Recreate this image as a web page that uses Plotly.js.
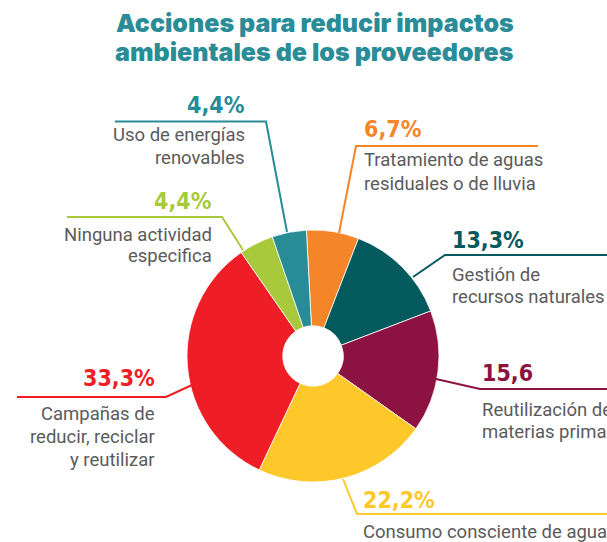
<!DOCTYPE html>
<html><head><meta charset="utf-8">
<script src="https://cdn.plot.ly/plotly-3.0.1.min.js"></script>
<style>html,body{margin:0;padding:0;background:#fff}#chart{width:607px;height:542px}</style>
</head><body><div id="chart"></div>
<script>
// ---- data ----
const categories = [
  "Tratamiento de aguas residuales o de lluvia",
  "Gestión de recursos naturales",
  "Reutilización de materias primas",
  "Consumo consciente de agua",
  "Campañas de reducir, reciclar y reutilizar",
  "Ninguna actividad especifica",
  "Uso de energías renovables"
];
const values = [6.7, 13.3, 15.6, 22.2, 33.3, 4.4, 4.4];
const valueLabels = ["6,7%", "13,3%", "15,6", "22,2%", "33,3%", "4,4%", "4,4%"];
const labelLines = [
  ["Tratamiento de aguas", "residuales o de lluvia"],
  ["Gestión de", "recursos naturales"],
  ["Reutilización de", "materias primas"],
  ["Consumo consciente de agua"],
  ["Campañas de", "reducir, reciclar", "y reutilizar"],
  ["Ninguna actividad", "especifica"],
  ["Uso de energías", "renovables"]
];
const titleLines = ["Acciones para reducir impactos", "ambientales de los proveedores"];

// ---- style / placement (pixels) ----
const colors = ["#F58529", "#045A5C", "#8C1241", "#FEC82B", "#EE1D26", "#A8C93B", "#288C97"];
const W = 607, H = 542;
const place = [
  {side: "left",  x: 363, pctY: 128.5, ys: [160.5, 184],     path: [[538,146],[356,146],[339,233]]},
  {side: "left",  x: 451, pctY: 240,   ys: [274.5, 296.5],   path: [[607,255],[445,255],[413,277]]},
  {side: "left",  x: 481, pctY: 373,   ys: [410, 432],       path: [[436,379],[480,389],[607,389]]},
  {side: "left",  x: 362, pctY: 500,   ys: [532],            path: [[343,479],[357,514],[607,514]]},
  {side: "right", x: 156, pctY: 378,   ys: [414, 437, 460],  path: [[17,397],[166,397],[192,385]]},
  {side: "right", x: 213, pctY: 201,   ys: [234.5, 255.5],   path: [[67,217],[222,217],[243,250]]},
  {side: "right", x: 246, pctY: 104.5, ys: [134.5, 157.5],   path: [[115,121.5],[266,121.5],[287,232]]}
];
const cx = 313, cy = 356, R = 126;

const px = x => x / W, py = y => 1 - y / H;

const trace = {
  type: "pie",
  labels: categories,
  values: values,
  sort: false,
  direction: "clockwise",
  rotation: -3,
  hole: 0.24,
  textinfo: "none",
  hoverinfo: "label+percent",
  marker: {colors: colors, line: {color: "#ffffff", width: 0.8}},
  domain: {x: [px(cx - R), px(cx + R)], y: [py(cy + R), py(cy - R)]},
  showlegend: false
};

const pctFont = "DejaVu Sans Condensed, Roboto, sans-serif";
const lblFont = "Roboto, sans-serif";

const annotations = [];
const shapes = [];
titleLines.forEach((t, i) => {
  annotations.push({
    text: t, x: px(314.5), y: py(i === 0 ? 23 : 52), xref: "paper", yref: "paper",
    xanchor: "center", yanchor: "middle", showarrow: false, borderpad: 0,
    font: {family: "Inter, Roboto, sans-serif", size: 25, weight: 900, color: "#2A8C97"}
  });
});
place.forEach((p, i) => {
  annotations.push({
    text: valueLabels[i], x: px(p.x), y: py(p.pctY), xref: "paper", yref: "paper",
    xanchor: p.side, yanchor: "middle", showarrow: false, borderpad: 0,
    font: {family: pctFont, size: 23, weight: 700, color: colors[i]}
  });
  labelLines[i].forEach((l, j) => {
    annotations.push({
      text: l, x: px(p.x), y: py(p.ys[j]), xref: "paper", yref: "paper",
      xanchor: p.side, yanchor: "middle", showarrow: false, borderpad: 0,
      font: {family: lblFont, size: 18.5, color: "#5A5A5C"}
    });
  });
  const d = p.path.map((pt, k) => (k ? "L" : "M") + px(pt[0]) + "," + py(pt[1])).join(" ");
  shapes.push({type: "path", xref: "paper", yref: "paper", path: d,
    line: {color: colors[i], width: 2}});
});

const layout = {
  width: W, height: H,
  margin: {l: 0, r: 0, t: 0, b: 0},
  paper_bgcolor: "#ffffff",
  annotations: annotations,
  shapes: shapes
};
Plotly.newPlot("chart", [trace], layout, {displayModeBar: false, staticPlot: true});
</script>
</body></html>
